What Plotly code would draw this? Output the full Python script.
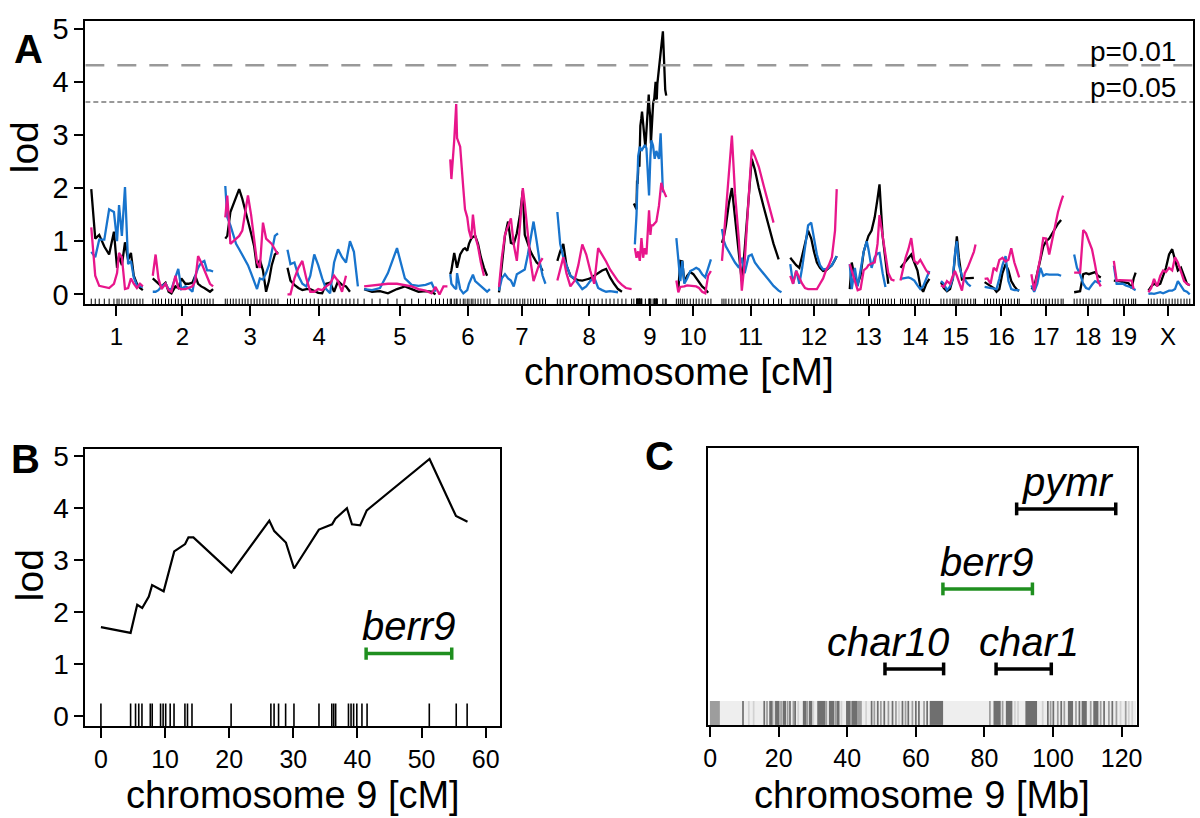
import plotly.graph_objects as go

# ---------------- Panel A : genome scan ----------------
CHROMS = ["1", "2", "3", "4", "5", "6", "7", "8", "9", "10",
          "11", "12", "13", "14", "15", "16", "17", "18", "19", "X"]
# cumulative start of each chromosome on the genome-wide axis (cM, incl. gaps)
CHROM_START = [10.5, 117, 247, 355, 492, 644, 730, 833, 968, 1043,
               1123.5, 1244, 1349, 1438.5, 1510, 1587, 1669.5, 1745, 1815, 1874]
CHROM_LEN = [88.5, 108.5, 87.5, 115.5, 126, 62, 80.5, 112, 57, 59.5,
             101.5, 84, 66.5, 52.5, 52.5, 59.5, 52.5, 49, 35, 73.5]
A_XMAX = 1954.75

# positions (cM within chromosome) at which LOD was read
GRID = [
    [0, 7, 14, 23, 31.5, 40, 45.5, 49, 54, 59.5, 65, 70, 75, 80.5, 86, 91],
    [2, 7, 12, 17.5, 24.5, 30, 35, 42, 47, 52.5, 59.5, 65, 72, 77, 82, 87.5, 93, 98, 103, 108.5],
    [0, 3.5, 9, 14, 19, 24.5, 30, 35, 40, 45.5, 51, 56, 61, 66.5, 72, 77, 82, 87.5, 93],
    [1.75, 7, 14, 21, 28, 35, 42, 49, 56, 63, 70, 77, 84, 91, 98, 105, 112, 119, 126],
    [0, 14, 28, 42, 58, 72, 84, 96, 108.5, 119, 126, 133, 140, 147],
    [0, 2, 7, 10.5, 12, 17.5, 23, 26, 30, 33, 37, 40, 44, 49, 54, 59.5, 65, 70],
    [0, 5, 10.5, 16, 21, 26, 31.5, 37, 42, 45.5, 51, 56, 61, 66.5, 72, 77, 82],
    [0, 5, 10.5, 16, 23, 30, 37, 44, 51, 58, 65, 72, 79, 86, 93, 100, 107, 114, 121, 131],
    [1.75, 4.7, 7.6, 10.5, 13.4, 16.3, 19.25, 22.2, 25.1, 26.8, 29.2, 30.9, 33.8, 36.75,
     39.7, 44.3, 47.25, 48.4, 50.2, 51.3, 57.2],
    [0, 3.5, 7, 10.5, 14, 19, 24.5, 30, 35, 40, 45.5, 51, 56, 61],
    [0, 3.5, 7, 12, 17.5, 23, 30, 35, 40, 47, 52.5, 58, 65, 73.5, 82, 91, 100, 105],
    [0, 5, 10.5, 16, 21, 26, 31.5, 37, 42, 47, 52.5, 58, 63, 68, 73.5, 79, 82],
    [0, 3.5, 9, 14, 19, 24.5, 30, 33, 38.5, 44, 49, 52.5, 58, 63, 68, 73.5, 79],
    [0, 3.5, 9, 14, 19, 24.5, 30, 35, 40, 45.5, 51],
    [0, 5, 10.5, 16, 21, 24.5, 28, 31.5, 37, 42, 47, 52.5, 58, 61],
    [0, 5, 10.5, 16, 21, 26, 31.5, 37, 42, 47, 52.5, 58, 61],
    [0, 5, 10.5, 16, 21, 26, 31.5, 37, 42, 47, 52.5, 56],
    [0, 5, 10.5, 16, 21, 26, 31.5, 37, 42, 47],
    [0, 5, 10.5, 16, 21, 26, 31.5, 35, 38.5],
    [2, 7, 12, 17.5, 23, 28, 33, 38.5, 44, 49, 54, 59.5, 65, 70, 75],
]

LOD_BLACK = [
    [1.98, 1.05, 1.12, 0.9, 0.75, 1.18, 0.5, 0.72, 0.55, 0.98, 0.65, 0.78, 0.35, 0.2, 0.12, 0.08],
    [0.3, 0.25, 0.2, 0.15, 0.22, 0.05, 0.02, 0.15, 0.12, 0.3, 0.2, 0.2, 0.22, 0.35, 0.2, 0.15, 0.12, 0.08, 0.05, 0.1],
    [1.05, 1.1, 1.55, 1.7, 1.85, 1.98, 1.8, 1.6, 1.4, 1.15, 0.9, 0.5, 0.65, 0.45, 0.05, 0.25, 0.55, 0.75, 0.8],
    [0.5, 0.26, 0.18, 0.12, 0.08, 0.1, 0.1, 0.06, 0.03, 0.02, 0.2, 0.22, 0.05, 0.25, 0.18, 0.15, 0.05, None, None],
    [0.1, 0.05, 0.06, 0.02, 0.1, 0.15, 0.1, 0.05, 0.06, 0.05, 0.0, None, None, None],
    [0.38, 0.45, 0.78, 0.6, 0.5, 0.75, 0.85, 0.87, 0.82, 0.95, 1.05, 1.08, 1.1, 0.95, 0.7, 0.5, 0.35, None],
    [0.04, 0.5, 1.1, 1.37, 0.97, 0.95, 1.15, 1.5, 1.95, 1.12, 0.95, 0.8, 0.7, 0.6, 0.55, 0.44, None],
    [0.63, 0.81, 0.95, 0.55, 0.35, 0.29, 0.27, 0.26, 0.28, 0.3, 0.35, 0.4, 0.45, 0.48, 0.32, 0.2, 0.1, 0.05, None, None],
    None,  # chromosome 9: see B_CM / B_LOD below
    [None, 0.1, 0.63, 0.62, 0.23, 0.35, 0.42, 0.38, 0.3, 0.22, 0.15, 0.1, 0.03, None],
    [0.97, 1.1, 1.3, 1.7, 2.0, 1.45, 0.7, 0.25, 0.84, 1.8, 2.55, 2.35, 2.0, 1.65, 1.3, 0.95, 0.66, None],
    [0.69, 0.62, 0.55, 0.5, 0.7, 0.95, 1.2, 1.05, 0.8, 0.6, 0.5, 0.44, 0.45, 0.5, 0.55, 0.65, 0.72],
    [0.1, 0.6, 0.3, 0.2, 0.35, 0.8, 1.0, 1.1, 1.2, 1.45, 1.8, 2.07, 1.1, 0.6, 0.2, None, None],
    [0.5, 0.55, 0.62, 0.7, 0.75, 0.6, 0.45, 0.15, 0.05, 0.2, 0.29],
    [0.23, 0.12, 0.06, 0.1, 0.3, 0.7, 1.09, 0.7, 0.28, 0.3, 0.3, 0.3, 0.31, None],
    [0.23, 0.2, 0.16, 0.12, 0.05, 0.1, 0.4, 0.57, 0.45, 0.25, 0.15, 0.08, 0.07],
    [0.1, 0.15, 0.4, 0.7, 0.9, 1.0, 1.05, 1.15, 1.25, 1.33, 1.4, None],
    [0.04, 0.05, 0.06, 0.38, 0.4, 0.38, 0.4, 0.42, 0.35, 0.32],
    [0.26, 0.26, 0.25, 0.23, 0.22, 0.21, 0.12, 0.3, 0.41],
    [0.07, 0.15, 0.2, 0.17, 0.2, 0.35, 0.5, 0.75, 0.85, 0.65, 0.45, 0.5, 0.35, 0.2, 0.17],
]

LOD_BLUE = [
    [0.8, 0.7, 1.03, 1.03, 1.6, 1.55, 1.0, 1.68, 1.1, 2.02, 0.57, 0.63, 0.32, 0.17, 0.15, 0.14],
    [0.05, 0.05, 0.08, 0.15, 0.2, 0.1, 0.1, 0.3, 0.48, 0.1, 0.15, 0.12, 0.05, 0.35, 0.5, 0.6, 0.63, 0.45, 0.45, 0.43],
    [2.04, 1.45, 1.3, 1.1, 0.95, 0.85, 0.75, 0.65, 0.55, 0.4, 0.25, 0.1, 0.3, 0.28, 0.4, 0.55, 0.8, 1.1, 1.15],
    [0.84, 0.57, 0.6, 0.35, 0.2, 0.15, 0.35, 0.75, 0.55, 0.3, 0.1, 0.02, 0.6, 0.85, 0.7, 0.6, 1.0, 0.8, 0.15],
    [0.1, 0.08, 0.12, 0.4, 0.87, 0.3, 0.18, 0.16, 0.18, 0.22, 0.05, None, None, None],
    [0.38, 0.2, 0.13, 0.1, 0.4, 0.1, 0.02, 0.05, 0.08, 0.2, 0.3, 0.37, 0.25, 0.2, 0.15, 0.1, 0.05, 0.1],
    [0.07, 0.3, 0.38, 0.3, 0.26, 0.15, 0.38, 0.42, 0.45, 0.47, 0.75, 1.05, 1.37, 1.0, 0.6, 0.35, 0.2],
    [1.55, 0.95, 0.7, 0.55, 0.35, 0.3, 0.2, 0.1, 0.15, 0.25, 0.32, 0.12, 0.08, 0.05, 0.06, 0.05, 0.04, None, None, None],
    [0.94, 1.5, 2.6, 2.78, 2.7, 2.75, 2.81, 2.75, 2.3, 1.86, 2.6, 2.9, 2.8, 2.55, 2.7, 2.55, 3.03, None, 2.1, 1.92, None],
    [1.06, 0.6, 0.25, 0.63, 0.2, 0.3, 0.44, 0.47, 0.5, 0.47, 0.38, 0.32, 0.5, 0.66],
    [1.23, 1.0, 0.9, 0.8, 0.7, 0.6, 0.5, 0.69, 0.4, 0.72, 0.75, 0.6, 0.5, 0.38, 0.28, 0.16, 0.07, 0.04],
    [0.57, 0.2, 0.45, 0.2, 0.5, 0.9, 1.3, 1.35, 1.05, 0.75, 0.55, 0.47, 0.48, 0.5, 0.55, 0.65, 0.72],
    [0.57, 0.1, 0.5, 0.15, 0.45, 0.8, 1.0, 0.85, 0.5, 0.7, 0.77, 0.78, 0.4, 0.14, None, None, None],
    [0.29, 0.3, 0.32, 0.32, 0.3, 0.26, 0.17, 0.1, 0.15, 0.3, 0.44],
    [0.25, 0.2, 0.08, 0.15, 0.3, 0.75, 1.0, 0.55, 0.35, 0.28, 0.2, 0.15, None, None],
    [0.14, 0.13, 0.12, 0.1, 0.1, 0.3, 0.55, 0.72, 0.25, 0.1, 0.08, 0.08, 0.07],
    [0.17, 0.05, 0.2, 0.5, 0.35, 0.38, 0.37, 0.37, 0.37, 0.37, 0.35, None],
    [0.75, 0.5, 0.38, 0.2, 0.12, 0.1, 0.18, 0.25, 0.22, 0.26],
    [0.54, 0.2, 0.2, 0.2, 0.17, 0.15, 0.13, 0.1, 0.08],
    [0.01, 0.02, 0.01, 0.02, 0.04, 0.02, 0.04, 0.07, 0.07, 0.1, 0.25, 0.15, 0.07, 0.05, 0.0],
]

LOD_MAGENTA = [
    [1.26, 0.35, 0.16, 0.14, 0.12, 0.2, 0.4, 0.78, 0.7, 0.1, 0.12, 0.3, 0.2, 0.12, 0.2, 0.15],
    [0.35, 0.75, 0.3, 0.1, 0.2, 0.08, 0.05, 0.35, 0.12, 0.1, 0.1, 0.12, 0.15, 0.25, 0.72, 0.6, 0.45, 0.3, 0.2, 0.15],
    [1.45, 1.86, 0.95, 1.0, 1.05, 1.1, 1.2, 1.5, 1.86, 1.5, 1.0, 0.6, 0.5, 1.35, 1.05, 1.0, 0.95, 0.85, 0.75],
    [0.0, 0.0, 0.3, 0.5, 0.63, 0.3, 0.05, 0.05, 0.1, 0.08, 0.15, 0.2, 0.35, 0.25, 0.05, 0.35, None, None, None],
    [0.15, 0.17, 0.18, 0.2, 0.2, 0.18, 0.15, 0.1, 0.07, 0.02, 0.14, 0.0, 0.15, 0.15],
    [2.54, 2.17, 2.9, 3.58, 2.94, 2.78, 2.0, 1.6, 1.45, 1.2, 1.05, 1.5, 1.1, 0.9, 0.6, 0.35, None, None],
    [0.14, 0.69, 1.12, 1.3, 1.43, 0.94, 0.63, 1.3, 2.0, 1.7, 1.1, 0.6, 0.25, 0.45, 0.6, 0.68, None],
    [0.26, 0.5, 0.7, 0.4, 0.15, 0.25, 0.55, 0.94, 0.75, 0.45, 0.2, 0.87, 0.75, 0.62, 0.47, 0.35, 0.25, 0.18, 0.12, 0.1],
    [0.87, 0.69, 0.81, 0.63, 1.06, 0.69, 0.87, 0.75, None, 1.58, 1.12, 1.3, 1.3, None, 1.37, 1.67, None, 2.1, None, 1.98, 1.83],
    [0.26, 0.04, 0.14, 0.14, 0.15, 0.17, 0.16, 0.15, 0.15, 0.12, 0.05, 0.02, 0.35, 0.44],
    [0.63, 1.12, 1.5, 2.2, 2.99, 1.9, 1.0, 0.07, 0.6, 1.8, 2.72, 2.6, 2.4, 2.05, 1.7, 1.35, None, None],
    [0.35, 0.2, 0.44, 0.3, 0.2, 0.12, 0.1, 0.1, 0.1, 0.1, 0.2, 0.3, 0.45, 0.55, 0.7, 1.2, 1.98],
    [0.57, 0.45, 0.25, 0.08, 0.1, 0.45, 0.5, 0.55, 0.58, 0.6, 0.95, 1.49, 1.1, 0.7, 0.4, 0.28, 0.26],
    [0.26, 0.45, 0.69, 0.85, 1.06, 0.63, 0.58, 0.65, 0.55, 0.45, 0.38],
    [0.17, 0.14, 0.25, 0.2, 0.35, 0.44, 0.35, 0.25, 0.07, 0.4, 0.5, 0.65, 0.8, 0.94],
    [0.29, 0.3, 0.2, 0.5, 0.45, 0.65, 0.69, 0.62, 0.65, 0.87, 0.6, 0.4, 0.32],
    [0.38, 0.07, 0.4, 0.7, 1.06, 1.05, 0.75, 1.05, 1.3, 1.55, 1.75, 1.86],
    [0.41, 0.41, 0.41, 1.21, 1.15, 1.0, 0.85, 0.55, 0.25, 0.15],
    [0.63, 0.26, 0.27, 0.27, 0.27, 0.26, 0.26, 0.1, None],
    [0.04, 0.12, 0.29, 0.15, 0.35, 0.45, 0.42, 0.5, 0.45, 0.7, 0.6, 0.4, 0.25, 0.2, 0.17],
]

THRESH = [4.31, 3.62]
THRESH_LABELS = ["p=0.01", "p=0.05"]

# ---------------- Panel B : chromosome 9 ----------------
B_CM = [0, 4.63, 5.66, 6.44, 7.47, 7.98, 9.78, 10.56, 11.43, 13.13, 13.65, 14.42, 20.34,
        26.26, 27.03, 28.84, 30.12, 33.99, 36.05, 36.56, 38.36, 39.14, 40.42, 41.45,
        51.24, 55.36, 57.16]
B_LOD = [1.71, 1.6, 2.14, 2.08, 2.3, 2.52, 2.4, 2.74, 3.17, 3.31, 3.44, 3.44, 2.76,
         3.76, 3.56, 3.34, 2.84, 3.59, 3.69, 3.8, 4.0, 3.69, 3.67, 3.96,
         4.95, 3.85, 3.74]
B_MARKERS = [0, 4.63, 5.4, 5.9, 6.4, 7.7, 8.0, 9.3, 9.7, 10.1, 10.8, 11.4, 13.1, 13.5, 14.2,
             20.3, 26.5, 27.0, 27.7, 28.8, 30.1, 34.0, 36.0, 36.3, 36.6, 38.6, 39.0, 39.4,
             39.9, 40.7, 41.5, 51.2, 55.4, 57.1]
B_INTERVAL = [41.35, 54.7]
B_INTERVAL_LOD = 1.2

# ---------------- Panel C : physical map ----------------
C_NAMES = ["pymr", "berr9", "char10", "char1"]
C_START = [89.4, 67.9, 51.0, 83.4]
C_END = [118.3, 94.0, 68.1, 99.5]
C_LEVEL = [3, 2, 1, 1]
C_COLOR = ["black", "#1f8f1f", "black", "black"]
C_LABEL_X = [104.3, 80.7, 52.0, 93.0]

BAND_LO = [0.2, 9.6, 11.3, 12.7, 15.8, 16.6, 17.5, 18.6, 19.2, 20.7, 21.4, 22.6, 23.3, 24.3, 24.8,
           25.7, 27.3, 28.4, 29.1, 30.1, 31.5, 33.9, 34.9, 36.5, 37.1, 38.3, 39.9, 41.1, 41.6,
           43.1, 45.5, 47.1, 47.9, 48.9, 49.8, 50.8, 52.0, 53.2, 54.2, 55.1, 56.1, 57.0, 57.8,
           59.0, 60.0, 60.9, 62.4, 63.3, 64.3, 81.6, 82.9, 85.3, 86.5, 88.9, 89.8, 92.2, 97.0,
           98.5, 99.3, 100.1, 101.4, 102.4, 103.3, 104.6, 106.7, 107.7, 108.6, 111.0, 112.0,
           113.9, 114.9, 116.3, 117.3, 118.5, 119.7, 121.2, 122.1, 123.1]
BAND_HI = [2.6, 9.6, 11.3, 12.7, 15.8, 16.6, 18.0, 18.6, 20.0, 20.7, 21.9, 22.6, 23.3, 24.3, 24.8,
           25.7, 27.9, 28.4, 29.6, 30.1, 33.4, 33.9, 35.9, 36.5, 37.5, 38.3, 40.7, 41.1, 42.6,
           44.0, 45.5, 47.1, 47.9, 48.9, 49.8, 50.8, 52.0, 53.2, 54.2, 55.1, 56.1, 57.0, 57.8,
           59.0, 60.0, 60.9, 62.4, 63.3, 67.7, 81.6, 84.5, 85.3, 87.9, 88.9, 89.8, 95.1, 97.0,
           98.5, 99.3, 100.1, 101.4, 102.4, 103.3, 105.6, 106.7, 107.7, 109.6, 111.0, 113.0,
           113.9, 114.9, 116.3, 117.3, 118.5, 119.7, 121.2, 122.1, 123.1]
BAND_TONE = ["m", "d", "l", "l", "d", "m", "d", "l", "d", "m", "d", "m", "d", "m", "d",
             "l", "d", "m", "d", "l", "d", "m", "d", "m", "d", "l", "d", "m", "d",
             "m", "l", "d", "m", "d", "m", "d", "m", "d", "m", "l", "d", "m", "d",
             "m", "d", "d", "m", "d", "d", "m", "d", "m", "d", "l", "l", "d", "l",
             "d", "m", "d", "m", "d", "m", "d", "m", "d", "d", "m", "d",
             "m", "d", "m", "d", "m", "l", "m", "l", "l"]
BAND_EXTENT = [0.0, 124.2]

# ---------------- styling ----------------
FONT = "Liberation Sans, Arial, Helvetica, sans-serif"
BLUE = "#1874CD"
MAGENTA = "#E8168B"
GREEN = "#1f8f1f"
TONES = {"d": "#6f6f6f", "m": "#9d9d9d", "l": "#d2d2d2"}

W, H = 1200, 818


def px_x(p):
    return p / W


def px_y(p):
    return 1 - p / H


fig = go.Figure()

# ---- Panel A traces ----
series = [("black", LOD_BLACK), (BLUE, LOD_BLUE), (MAGENTA, LOD_MAGENTA)]
for color, lods in series:
    for i, c in enumerate(CHROMS):
        off = CHROM_START[i]
        if lods[i] is None:
            pos, vals = B_CM, B_LOD
        else:
            pos, vals = GRID[i], lods[i]
        xs = [off + p for p, v in zip(pos, vals) if v is not None]
        ys = [v for v in vals if v is not None]
        fig.add_trace(go.Scatter(x=xs, y=ys, mode="lines", xaxis="x", yaxis="y",
                                 line=dict(color=color, width=2.3), hoverinfo="skip"))

# rug of markers in A
rx, ry = [], []
for i, c in enumerate(CHROMS):
    pos = B_MARKERS if c == "9" else GRID[i]
    for p in pos:
        rx += [CHROM_START[i] + p, CHROM_START[i] + p, None]
        ry += [-0.19, -0.08, None]
fig.add_trace(go.Scatter(x=rx, y=ry, mode="lines", xaxis="x", yaxis="y",
                         line=dict(color="black", width=1), hoverinfo="skip"))

# thresholds
fig.add_trace(go.Scatter(x=[0, A_XMAX], y=[THRESH[0]] * 2, mode="lines", xaxis="x", yaxis="y",
                         line=dict(color="#999999", width=2.5, dash="19px,13px"), hoverinfo="skip"))
fig.add_trace(go.Scatter(x=[0, A_XMAX], y=[THRESH[1]] * 2, mode="lines", xaxis="x", yaxis="y",
                         line=dict(color="#999999", width=2, dash="5px,3px"), hoverinfo="skip"))

# ---- Panel B ----
bx, by = [], []
for m in B_MARKERS:
    bx += [m, m, None]
    by += [-0.2, 0.24, None]
fig.add_trace(go.Scatter(x=bx, y=by, mode="lines", xaxis="x2", yaxis="y2",
                         line=dict(color="black", width=1.6), hoverinfo="skip"))
fig.add_trace(go.Scatter(x=B_CM, y=B_LOD, mode="lines", xaxis="x2", yaxis="y2",
                         line=dict(color="black", width=2.2), hoverinfo="skip"))
cap = 0.12
x0, x1 = B_INTERVAL
yb = B_INTERVAL_LOD
fig.add_trace(go.Scatter(x=[x0, x1, None, x0, x0, None, x1, x1],
                         y=[yb, yb, None, yb - cap, yb + cap, None, yb - cap, yb + cap],
                         mode="lines", xaxis="x2", yaxis="y2",
                         line=dict(color=GREEN, width=3.5), hoverinfo="skip"))

# ---- Panel C ----
shapes = [dict(type="rect", xref="x3", yref="y3", x0=BAND_EXTENT[0], x1=BAND_EXTENT[1],
               y0=0.30, y1=0.60, fillcolor="#eeeeee", line=dict(width=0), layer="below")]
for lo, hi, t in zip(BAND_LO, BAND_HI, BAND_TONE):
    shapes.append(dict(type="rect", xref="x3", yref="y3", x0=lo - 0.25, x1=hi + 0.25,
                       y0=0.30, y1=0.60, fillcolor=TONES[t], line=dict(width=0), layer="below"))

ccap = 0.08
for name, s, e, lev, col in zip(C_NAMES, C_START, C_END, C_LEVEL, C_COLOR):
    fig.add_trace(go.Scatter(x=[s, e, None, s, s, None, e, e],
                             y=[lev, lev, None, lev - ccap, lev + ccap, None, lev - ccap, lev + ccap],
                             mode="lines", xaxis="x3", yaxis="y3",
                             line=dict(color=col, width=3.5), hoverinfo="skip"))

# ---- annotations ----
ann = []
# panel letters
for txt, (cx, cy) in zip(["A", "B", "C"], [(24, 41), (21, 458), (660, 455)]):
    ann.append(dict(text="<b>%s</b>" % txt, x=px_x(cx), y=px_y(cy), xref="paper", yref="paper",
                    xanchor="center", yanchor="middle", showarrow=False,
                    font=dict(size=40, family=FONT, color="black")))
# axis titles
for txt, (cx, cy), ang, sz in [("lod", (20, 141), -90, 39), ("chromosome [cM]", (680, 369), 0, 39),
                               ("lod", (25, 577), -90, 39), ("chromosome 9 [cM]", (290, 801), 0, 38),
                               ("chromosome 9 [Mb]", (925, 801), 0, 38)]:
    ann.append(dict(text=txt, x=px_x(cx), y=px_y(cy), xref="paper", yref="paper",
                    xanchor="center", yanchor="middle", showarrow=False, textangle=ang,
                    font=dict(size=sz, family=FONT, color="black")))
# threshold labels
for txt, cy in zip(THRESH_LABELS, [43.5, 80]):
    ann.append(dict(text=txt, x=px_x(1183), y=px_y(cy), xref="paper", yref="paper",
                    xanchor="right", yanchor="middle", showarrow=False,
                    font=dict(size=28, family=FONT, color="black")))
# berr9 in B
ann.append(dict(text="<i>berr9</i>", x=(x0 + x1) / 2, y=1.726, xref="x2", yref="y2",
                xanchor="center", yanchor="middle", showarrow=False,
                font=dict(size=40, family=FONT, color="black")))
# labels in C
for name, lx, lev in zip(C_NAMES, C_LABEL_X, C_LEVEL):
    ann.append(dict(text="<i>%s</i>" % name, x=lx, y=lev + 0.335, xref="x3", yref="y3",
                    xanchor="center", yanchor="middle", showarrow=False,
                    font=dict(size=40, family=FONT, color="black")))

axis_common = dict(showline=True, linecolor="black", linewidth=2, mirror=True,
                   ticks="outside", tickwidth=2, tickcolor="black", showgrid=False,
                   zeroline=False, fixedrange=True)

tick_pos = [CHROM_START[i] + CHROM_LEN[i] / 2 for i in range(len(CHROMS))]

fig.update_layout(
    width=W, height=H, margin=dict(l=0, r=0, t=0, b=0),
    paper_bgcolor="white", plot_bgcolor="white", showlegend=False,
    font=dict(family=FONT, color="black"),
    xaxis=dict(domain=[px_x(81), px_x(1198)], range=[0, A_XMAX], anchor="y",
               tickvals=tick_pos, ticktext=CHROMS, ticklen=10,
               tickfont=dict(size=24), **axis_common),
    yaxis=dict(domain=[px_y(301), px_y(12.7)], range=[-0.19, 5.135], anchor="x",
               tickvals=[0, 1, 2, 3, 4, 5], ticklen=9, tickfont=dict(size=29), **axis_common),
    xaxis2=dict(domain=[px_x(81), px_x(499)], range=[-2.43, 62.2], anchor="y2",
                tickvals=[0, 10, 20, 30, 40, 50, 60], ticklen=10,
                tickfont=dict(size=25), **axis_common),
    yaxis2=dict(domain=[px_y(730.7), px_y(448.3)], range=[-0.2, 5.14], anchor="x2",
                tickvals=[0, 1, 2, 3, 4, 5], ticklen=9, tickfont=dict(size=28), **axis_common),
    xaxis3=dict(domain=[px_x(709), px_x(1141.7)], range=[-0.58, 124.55], anchor="y3",
                tickvals=[0, 20, 40, 60, 80, 100, 120], ticklen=10,
                tickfont=dict(size=25), **axis_common),
    yaxis3=dict(domain=[px_y(729.3), px_y(446.7)], range=[0.30, 3.768], anchor="x3",
                showline=True, linecolor="black", linewidth=2, mirror=True, ticks="",
                showticklabels=False, showgrid=False, zeroline=False, fixedrange=True),
    annotations=ann, shapes=shapes,
)

fig.write_html("out.html", config={"displayModeBar": False},
               post_script="document.body.style.margin='0';document.body.style.overflow='hidden';")
